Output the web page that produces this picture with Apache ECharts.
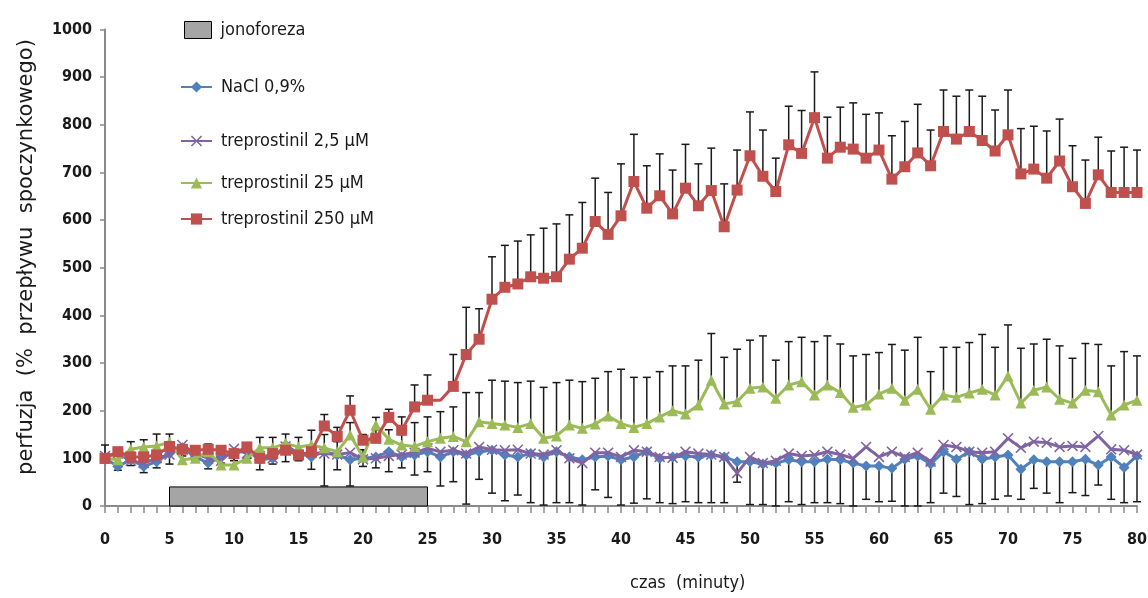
<!DOCTYPE html>
<html>
<head>
<meta charset="utf-8">
<script src="https://cdn.jsdelivr.net/npm/echarts@6/dist/echarts.min.js"></script>
<style>html,body{margin:0;padding:0;background:#fff;}#c{width:1148px;height:598px;}</style>
</head>
<body>
<div id="c"></div>
<script>
// time in minutes
const minutes = [0,1,2,3,4,5,6,7,8,9,10,11,12,13,14,15,16,17,18,19,20,21,22,23,24,25,26,27,28,29,30,31,32,33,34,35,36,37,38,39,40,41,42,43,44,45,46,47,48,49,50,51,52,53,54,55,56,57,58,59,60,61,62,63,64,65,66,67,68,69,70,71,72,73,74,75,76,77,78,79,80];
const seriesNames = ['NaCl 0,9%', 'treprostinil 2,5 \u00b5M', 'treprostinil 25 \u00b5M', 'treprostinil 250 \u00b5M'];
const bandName = 'jonoforeza';
const band = [5, 25, 40]; // start, end, height
const yTicks = [0,100,200,300,400,500,600,700,800,900,1000];
const xTickLabels = [0,5,10,15,20,25,30,35,40,45,50,55,60,65,70,75,80];
const yTitle = 'perfuzja  (%  przepływu  spoczynkowego)';
const xTitle = 'czas  (minuty)';

const nacl = [100,83,97,83,93,110,122,103,90,103,110,117,97,100,128,110,103,114,107,97,100,103,114,103,107,114,103,114,107,114,117,107,103,110,103,114,103,97,103,105,97,103,114,100,103,105,103,107,103,93,93,88,90,97,93,93,98,97,90,84,84,79,98,105,88,114,98,114,98,103,107,77,97,93,93,93,98,86,103,81,105];
const naclLow = [90,75,85,70,80,88,105,95,78,90,95,100,76,88,93,95,77,42,76,42,83,80,72,80,65,72,42,51,4,56,27,11,23,7,2,7,7,2,34,18,2,6,15,7,5,9,7,7,7,50,3,3,0,9,3,7,7,5,0,14,9,10,0,0,7,27,20,3,5,14,21,14,37,27,7,28,22,44,14,7,9];
const trep25 = [105,110,95,90,100,108,128,110,100,95,120,110,105,100,125,108,112,110,108,112,98,100,105,108,112,121,114,117,110,124,118,117,118,110,108,117,100,90,112,112,103,117,114,103,101,114,110,108,103,69,103,90,95,110,105,107,114,108,100,124,103,114,103,112,93,128,124,114,112,114,142,122,135,133,124,126,124,147,119,117,108];
const trep250 = [100,97,119,124,126,134,97,100,114,86,86,100,122,122,131,124,128,122,114,149,103,170,140,128,125,135,142,146,135,177,173,170,165,173,142,147,170,163,172,189,173,165,173,187,200,193,212,264,214,219,247,250,226,254,261,233,254,238,207,212,235,247,222,245,203,233,228,237,245,233,273,216,243,250,224,216,243,240,191,212,222];
const trep250High = [128,112,135,139,151,151,112,112,130,100,100,112,144,144,151,144,159,150,135,175,118,186,160,150,175,187,198,208,238,238,264,262,259,262,249,259,264,261,268,282,287,270,270,282,294,294,306,362,312,329,348,357,306,345,354,345,357,340,315,318,322,339,327,354,282,333,333,343,360,333,380,331,340,350,336,310,341,339,294,324,315];
const trep2500 = [100,114,103,103,107,125,119,117,119,117,110,124,100,110,117,107,114,168,146,201,138,142,186,159,208,222,222,251,318,350,434,459,466,481,478,481,518,541,597,570,609,681,625,651,613,667,630,662,586,663,735,692,660,758,740,815,730,753,749,730,747,686,712,741,714,786,770,786,767,745,779,697,707,688,724,670,635,695,658,658,658];
const trep2500High = [null,null,null,null,null,null,null,null,null,null,null,null,null,null,null,null,null,192,165,231,150,160,203,187,254,275,null,318,417,414,523,547,556,569,583,592,611,637,688,658,718,780,714,739,705,759,718,751,676,747,827,789,730,839,830,911,816,837,846,822,825,777,807,843,789,873,860,873,860,831,873,792,797,787,812,756,726,774,745,753,747];

const FONT_N = "'Liberation Sans Narrow','DejaVu Sans Condensed','Arial Narrow',sans-serif";
const colors = ['#4f81bd', '#8064a2', '#9bbb59', '#c0504d'];
const crossPath = 'path://M0,1 L1,0 L5,4 L9,0 L10,1 L6,5 L10,9 L9,10 L5,6 L1,10 L0,9 L4,5 Z';
const symbols = ['diamond', crossPath, 'triangle', 'rect'];
const symbolSizes = [11, 11, 11, 11];
const values = [nacl, trep25, trep250, trep2500];

function errRender(params, api) {
  const x = api.value(0), v = api.value(1), e = api.value(2);
  if (isNaN(v) || isNaN(e)) return;
  const p1 = api.coord([x, v]), p2 = api.coord([x, e]);
  const st = {stroke: '#1a1a1a', lineWidth: 1.5};
  return {type: 'group', children: [
    {type: 'line', shape: {x1: p1[0], y1: p1[1], x2: p2[0], y2: p2[1]}, style: st},
    {type: 'line', shape: {x1: p2[0] - 4, y1: p2[1], x2: p2[0] + 4, y2: p2[1]}, style: st}
  ]};
}
function errData(vals, ends) {
  const out = [];
  for (let i = 0; i < minutes.length; i++) {
    if (ends[i] == null || vals[i] == null) continue;
    out.push([minutes[i], vals[i], ends[i]]);
  }
  return out;
}

const series = [];
// ionophoresis band
series.push({
  name: bandName, type: 'custom', z: 1,
  itemStyle: {color: '#a5a5a5', borderColor: '#000', borderWidth: 1},
  data: [band],
  encode: {x: [0, 1], y: 2},
  renderItem: function (params, api) {
    const a = api.coord([api.value(0), 0]);
    const b = api.coord([api.value(1), api.value(2)]);
    return {type: 'rect', shape: {x: a[0], y: b[1], width: b[0] - a[0], height: a[1] - b[1]},
      style: {fill: '#a5a5a5', stroke: '#000', lineWidth: 1}};
  }
});
// error bars
series.push({type: 'custom', z: 2, silent: true, data: errData(nacl, naclLow), encode: {x: 0, y: [1, 2]}, renderItem: errRender});
series.push({type: 'custom', z: 2, silent: true, data: errData(trep250, trep250High), encode: {x: 0, y: [1, 2]}, renderItem: errRender});
series.push({type: 'custom', z: 2, silent: true, data: errData(trep2500, trep2500High), encode: {x: 0, y: [1, 2]}, renderItem: errRender});

for (let s = 0; s < 4; s++) {
  const d = minutes.map((m, i) => {
    if (s === 3 && m === 26) return {value: [m, values[s][i]], symbol: 'none'};
    return [m, values[s][i]];
  });
  series.push({
    name: seriesNames[s], type: 'line', z: 3 + s,
    data: d,
    symbol: symbols[s], symbolSize: symbolSizes[s],
    showAllSymbol: true,
    lineStyle: {color: colors[s], width: 3},
    itemStyle: {color: colors[s], borderWidth: 0},
    animation: false
  });
}

const legendNames = [bandName].concat(seriesNames);
const legendTops = [21, 78, 132, 174, 210];
const legends = legendNames.map((n, i) => ({
  data: i === 0 ? [{name: n, icon: 'rect', itemStyle: {color: '#a5a5a5', borderColor: '#000', borderWidth: 1}}] : [n],
  left: i === 0 ? 184 : 180, top: legendTops[i],
  padding: 0,
  itemWidth: i === 0 ? 27 : 31, itemHeight: i === 0 ? 17 : 14,
  selectedMode: false,
  textStyle: {fontFamily: FONT_N, fontSize: 18, color: '#1a1a1a', padding: [0, 0, 0, 4]}
}));

const chart = echarts.init(document.getElementById('c'));
chart.setOption({
  animation: false,
  backgroundColor: '#ffffff',
  grid: {left: 105, right: 11, top: 29.5, bottom: 92, outerBoundsMode: 'none'},
  legend: legends,
  title: {text: xTitle, left: 625, top: 569,
    textStyle: {fontFamily: FONT_N, fontSize: 18, fontWeight: 'normal', color: '#1a1a1a'}},
  graphic: [{
    type: 'text', x: 27, y: 257, rotation: Math.PI / 2,
    style: {text: yTitle, fontFamily: "'DejaVu Sans',sans-serif", fontSize: 21, fill: '#1a1a1a',
      textAlign: 'center', textVerticalAlign: 'middle'}
  }],
  xAxis: {
    type: 'value', min: 0, max: 80, interval: 1,
    axisLine: {lineStyle: {color: '#8a8a8a', width: 2}},
    axisTick: {show: true, length: 7, lineStyle: {color: '#8a8a8a', width: 1.5}},
    splitLine: {show: false},
    axisLabel: {
      margin: 26, color: '#1a1a1a', fontFamily: FONT_N, fontWeight: 'bold', fontSize: 16,
      formatter: function (v) { return xTickLabels.indexOf(v) >= 0 ? String(v) : ''; }
    }
  },
  yAxis: {
    type: 'value', min: yTicks[0], max: yTicks[yTicks.length - 1], interval: 100,
    axisLine: {show: true, lineStyle: {color: '#8a8a8a', width: 2}},
    axisTick: {show: true, length: 5, lineStyle: {color: '#8a8a8a', width: 1.5}},
    splitLine: {show: false},
    axisLabel: {margin: 13, color: '#1a1a1a', fontFamily: FONT_N, fontWeight: 'bold', fontSize: 16,
      formatter: function (v) { return String(v); }}
  },
  series: series
});
</script>
</body>
</html>
